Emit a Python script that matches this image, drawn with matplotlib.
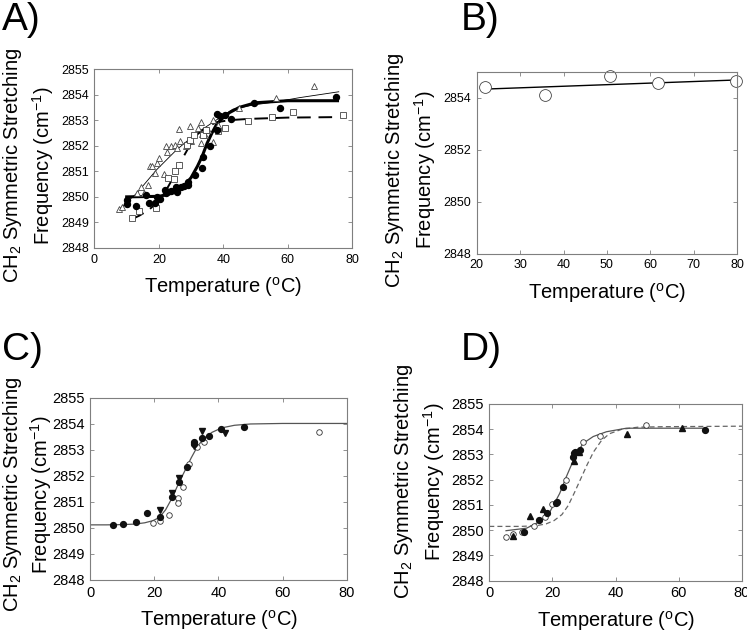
import matplotlib
matplotlib.use("Agg")
import matplotlib.pyplot as plt

plt.rcParams["font.family"] = ["Liberation Sans", "DejaVu Sans"]
plt.rcParams["mathtext.fontset"] = "custom"
plt.rcParams["mathtext.rm"] = "Liberation Sans"

# ---- panel A: three samples with fits ----
a_fill_x = [10.0, 10.0, 12.9, 16.0, 17.0, 18.8, 19.3, 20.3, 21.9, 22.2, 23.9, 25.3, 25.7, 27.0, 27.8,
            29.1, 29.2, 31.2, 33.4, 33.7, 36.0, 38.2, 38.2, 38.9, 40.5, 42.3, 49.6, 57.5, 75.1]
a_fill_y = [2849.88, 2849.71, 2849.66, 2850.08, 2849.75, 2849.75, 2850.01, 2849.92, 2850.27, 2850.17,
            2850.23, 2850.38, 2850.20, 2850.40, 2850.44, 2850.57, 2850.47, 2850.86, 2851.11, 2851.54,
            2851.97, 2852.62, 2853.24, 2853.16, 2853.20, 2853.05, 2853.66, 2853.46, 2853.89]
a_tri_x = [7.7, 8.4, 13.1, 14.6, 15.5, 16.7, 17.2, 17.9, 18.8, 19.3, 20.0, 21.5, 22.2, 22.4, 23.9, 25.0,
           25.5, 26.3, 26.5, 28.5, 29.6, 30.1, 32.2, 33.2, 33.2, 33.4, 34.3, 35.3, 36.8, 36.8, 38.4,
           44.8, 56.3, 68.1]
a_tri_y = [2849.52, 2849.62, 2850.17, 2850.40, 2850.17, 2850.47, 2851.19, 2851.21, 2850.93, 2851.34,
           2851.51, 2850.89, 2851.97, 2851.77, 2851.97, 2852.03, 2851.93, 2852.64, 2852.20, 2852.00,
           2852.77, 2852.20, 2852.68, 2852.94, 2852.10, 2852.46, 2852.42, 2852.62, 2853.01, 2852.16,
           2852.81, 2853.46, 2853.88, 2854.34]
a_sq_x = [11.5, 13.9, 19.1, 22.8, 24.8, 25.0, 26.2, 28.6, 29.6, 31.0, 33.7, 34.5, 38.4, 40.5, 47.7,
          55.0, 61.7, 77.3]
a_sq_y = [2849.18, 2849.43, 2849.57, 2850.74, 2850.71, 2851.03, 2851.23, 2852.03, 2852.23, 2852.40,
          2852.42, 2852.60, 2852.59, 2852.68, 2852.97, 2853.12, 2853.31, 2853.20]

a_fit_fill_x = [10, 20, 23, 26, 28, 30, 32, 33.5, 35, 36.5, 38, 40, 42, 45, 50, 60, 75.5]
a_fit_fill_y = [2850.0, 2850.02, 2850.10, 2850.25, 2850.45, 2850.75, 2851.20, 2851.60, 2852.10,
                2852.50, 2852.85, 2853.10, 2853.30, 2853.50, 2853.68, 2853.76, 2853.76]
a_fit_tri_x = [7.4, 13.1, 19.3, 25.5, 31.7, 37.9, 43.0, 49.2, 56.5, 63.7, 75.9]
a_fit_tri_y = [2849.48, 2850.14, 2851.06, 2851.84, 2852.49, 2853.01, 2853.43, 2853.59, 2853.72,
               2853.88, 2854.11]
a_fit_sq_x = [11.5, 14, 17, 20, 22, 24, 26, 28, 30, 32, 35, 38, 42, 48, 60, 76]
a_fit_sq_y = [2849.12, 2849.27, 2849.50, 2849.85, 2850.20, 2850.65, 2851.15, 2851.65, 2852.10,
              2852.45, 2852.75, 2852.92, 2853.00, 2853.05, 2853.10, 2853.12]

# ---- panel B ----
b_x = [21.9, 35.8, 50.6, 61.7, 79.8]
b_y = [2854.42, 2854.10, 2854.83, 2854.57, 2854.64]
b_fit_x = [21.9, 79.8]
b_fit_y = [2854.33, 2854.68]

# ---- panel C ----
c_fill_x = [7.2, 10.3, 14.2, 17.8, 21.6, 25.5, 27.8, 30.1, 32.5, 32.5, 34.8, 37.0, 40.8, 48.0]
c_fill_y = [2850.10, 2850.17, 2850.24, 2850.56, 2850.42, 2851.20, 2851.78, 2852.35, 2853.32,
            2853.23, 2853.47, 2853.53, 2853.81, 2853.90]
c_open_x = [19.7, 21.6, 24.4, 27.5, 27.5, 28.8, 30.9, 33.2, 35.5, 71.3]
c_open_y = [2850.18, 2850.27, 2850.49, 2851.14, 2850.95, 2851.57, 2852.46, 2853.10, 2853.32, 2853.69]
c_tri_x = [21.8, 25.4, 27.8, 32.5, 34.8, 42.1]
c_tri_y = [2850.69, 2851.36, 2851.94, 2853.15, 2853.74, 2853.64]
c_fit_x = [0, 5, 10, 14, 17, 19.5, 21.5, 23.5, 25.5, 27.5, 29.5, 31.5, 33.5, 35.5, 38, 41, 45, 50, 60, 80]
c_fit_y = [2850.12, 2850.12, 2850.13, 2850.15, 2850.20, 2850.28, 2850.40, 2850.70, 2851.15, 2851.70,
           2852.20, 2852.70, 2853.15, 2853.45, 2853.68, 2853.85, 2853.95, 2854.00, 2854.02, 2854.02]

# ---- panel D ----
d_open_x = [5.3, 7.4, 10.2, 14.1, 17.6, 20.0, 24.2, 29.7, 35.0, 49.7]
d_open_y = [2849.73, 2849.84, 2849.94, 2850.18, 2850.54, 2851.03, 2851.99, 2853.51, 2853.73, 2854.17]
d_fill_x = [11.1, 15.8, 18.3, 21.1, 21.5, 23.4, 26.5, 26.8, 27.1, 28.7, 68.4]
d_fill_y = [2849.92, 2850.40, 2850.67, 2851.07, 2851.12, 2851.72, 2852.89, 2853.05, 2853.11, 2853.18,
            2853.97]
d_tri_x = [7.6, 12.9, 17.1, 26.9, 28.3, 43.6, 61.0]
d_tri_y = [2849.78, 2850.56, 2850.83, 2852.75, 2853.09, 2853.80, 2854.06]
d_fit_x = [5.3, 11.8, 16.0, 19.2, 22.3, 24.4, 27.1, 29.7, 32.9, 37.1, 43.4, 68.7]
d_fit_y = [2849.98, 2850.08, 2850.34, 2850.73, 2851.46, 2852.12, 2852.91, 2853.44, 2853.71, 2853.90,
           2854.04, 2854.04]
d_dash_x = [0, 10, 15, 18, 20.5, 23, 25, 27, 29, 31, 33, 35.5, 38, 42, 47, 55, 80]
d_dash_y = [2850.15, 2850.15, 2850.18, 2850.25, 2850.38, 2850.62, 2850.98, 2851.50, 2852.05, 2852.60,
            2853.10, 2853.55, 2853.82, 2854.00, 2854.08, 2854.10, 2854.12]

ylabel = "CH$_2$ Symmetric Stretching\nFrequency (cm$^{-1}$)"
xlabel = "Temperature ($^{\\rm o}$C)"
spine_col = "#7f7f7f"
label_size = 14.5


def style_axes(ax, tick_size):
    for s in ax.spines.values():
        s.set_color(spine_col)
        s.set_linewidth(0.8)
    ax.tick_params(direction="in", top=True, right=True, length=3, width=0.6, color=spine_col,
                   labelsize=tick_size, pad=4)


def add_labels(ax, lx, ly, xpad, spacing=1.3):
    ax.set_xlabel(xlabel, fontsize=label_size, labelpad=xpad)
    ax.set_ylabel(ylabel, fontsize=label_size, linespacing=spacing)
    ax.yaxis.set_label_coords(lx, ly)


fig = plt.figure(figsize=(7.47, 6.32), dpi=100)

# A
ax = fig.add_axes([0.1265, 0.6076, 0.3447, 0.2832])
ax.plot(a_fit_tri_x, a_fit_tri_y, color="black", lw=0.6)
ax.plot(a_fit_sq_x, a_fit_sq_y, color="black", lw=1.4, dashes=(7, 4))
ax.plot(a_fit_fill_x, a_fit_fill_y, color="black", lw=2.2)
ax.plot(a_tri_x, a_tri_y, "^", ms=4.5, mfc="white", mec="#444444", mew=0.6, ls="none")
ax.plot(a_sq_x, a_sq_y, "s", ms=4.5, mfc="white", mec="#444444", mew=0.6, ls="none")
ax.plot(a_fill_x, a_fill_y, "o", ms=4.3, color="black", ls="none")
ax.set_xlim(0, 80)
ax.set_ylim(2848, 2855)
ax.set_xticks([0, 20, 40, 60, 80])
ax.set_yticks(range(2848, 2856))
style_axes(ax, 9)
add_labels(ax, -0.15, 0.46, 7)

# B
ax = fig.add_axes([0.6382, 0.5986, 0.3485, 0.288])
ax.plot(b_fit_x, b_fit_y, color="black", lw=1.0)
ax.plot(b_x, b_y, "o", ms=8.5, mfc="white", mec="#444444", mew=0.6, ls="none", clip_on=False)
ax.set_xlim(20, 80)
ax.set_ylim(2848, 2855)
ax.set_xticks(range(20, 81, 10))
ax.set_yticks([2848, 2850, 2852, 2854])
style_axes(ax, 9)
add_labels(ax, -0.15, 0.46, 7)

# C
ax = fig.add_axes([0.1209, 0.0823, 0.3432, 0.288])
ax.plot(c_fit_x, c_fit_y, color="#555555", lw=0.9)
ax.plot(c_open_x, c_open_y, "o", ms=4, mfc="white", mec="#333333", mew=0.6, ls="none")
ax.plot(c_fill_x, c_fill_y, "o", ms=4.2, color="#111111", ls="none")
ax.plot(c_tri_x, c_tri_y, "v", ms=4.2, color="#111111", ls="none")
ax.set_xlim(0, 80)
ax.set_ylim(2848, 2855)
ax.set_xticks([0, 20, 40, 60, 80])
ax.set_yticks(range(2848, 2856))
style_axes(ax, 10.5)
add_labels(ax, -0.142, 0.47, 6, spacing=1.2)

# D
ax = fig.add_axes([0.655, 0.0812, 0.3383, 0.2796])
ax.plot(d_dash_x, d_dash_y, color="#666666", lw=0.9, dashes=(4, 2.5))
ax.plot(d_fit_x, d_fit_y, color="#555555", lw=0.9)
ax.plot(d_open_x, d_open_y, "o", ms=4, mfc="white", mec="#333333", mew=0.6, ls="none")
ax.plot(d_fill_x, d_fill_y, "o", ms=4.2, color="#111111", ls="none")
ax.plot(d_tri_x, d_tri_y, "^", ms=4.2, color="#111111", ls="none")
ax.set_xlim(0, 80)
ax.set_ylim(2848, 2855)
ax.set_xticks([0, 20, 40, 60, 80])
ax.set_yticks(range(2848, 2856))
style_axes(ax, 10.5)
add_labels(ax, -0.168, 0.56, 6)

for letter, x, y in [("A)", 0.003, 0.997), ("B)", 0.617, 0.997), ("C)", 0.003, 0.475), ("D)", 0.617, 0.475)]:
    fig.text(x, y, letter, fontsize=28, va="top", ha="left")

fig.savefig("out.png", dpi=100)
